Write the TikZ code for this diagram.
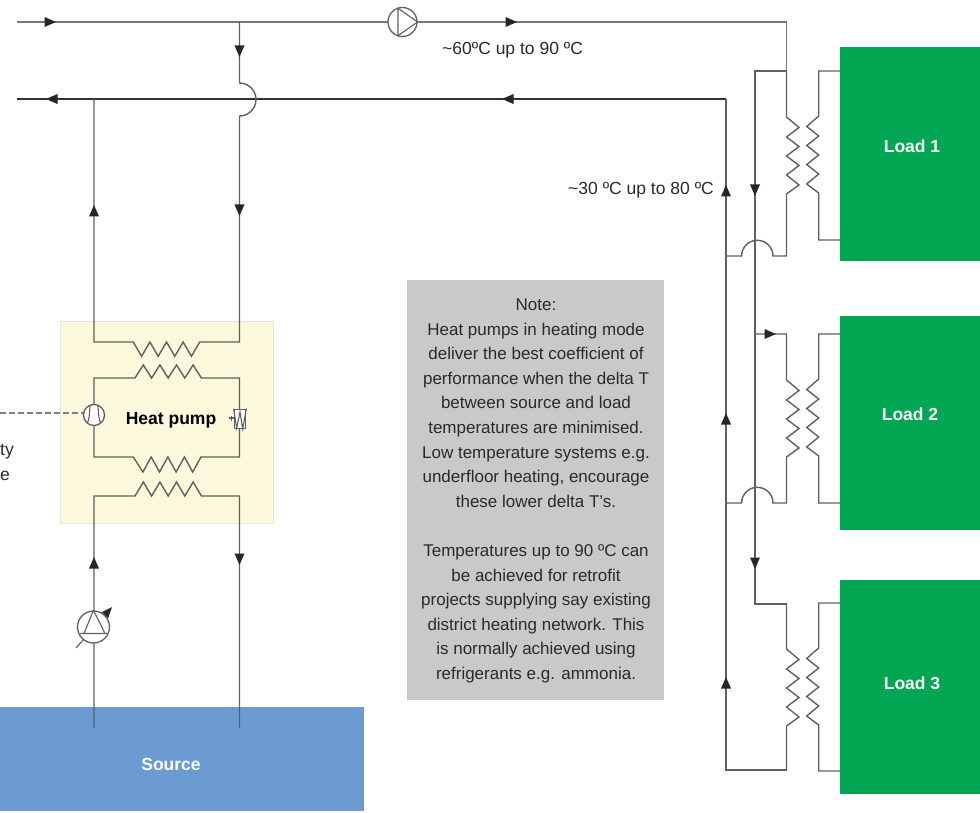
\documentclass[tikz,border=0pt]{standalone}
\usepackage{fontspec}
\setmainfont{Liberation Sans}
\definecolor{pipe}{HTML}{606060}
\definecolor{pipedark}{HTML}{333333}
\definecolor{hpyellow}{HTML}{FCF8DC}
\definecolor{notegrey}{HTML}{C9C9C9}
\definecolor{srcblue}{HTML}{6C9BD2}
\definecolor{loadgreen}{HTML}{00A651}
\definecolor{txt}{HTML}{2A2A2A}
\tikzset{
  pipeline/.style={draw=pipe,line width=1.4pt,line join=miter},
  mainline/.style={draw=pipedark,line width=1.8pt},
  topline/.style={draw=pipe!85,line width=1.7pt},
  loadbox/.style={fill=loadgreen,draw=none,minimum width=140pt,minimum height=214pt,inner sep=0pt},
  whitelabel/.style={inner sep=0pt,text=white,font=\bfseries\fontsize{17.5}{20}\selectfont},
  lbl/.style={inner sep=0pt,text=txt,font=\fontsize{17.5}{20}\selectfont},
  pumpcircle/.style={circle,draw=pipe,line width=1.3pt,fill=white,inner sep=0pt},
  pumpdetail/.style={draw=pipe,line width=1.1pt},
  flowtip/.style={fill=black!85,draw=none}
}
\newcommand\flowarrow[3]{\fill[flowtip,shift={(#1,#2)},rotate=#3] (0,0) -- (-11.5,-5) -- (-11.5,5) -- cycle;}
\newcommand\hcoil[1]{ -- ++(8.3,#1) -- ++(8.3,-#1) -- ++(8.3,#1) -- ++(8.3,-#1) -- ++(8.3,#1) -- ++(8.3,-#1) -- ++(8.3,#1) -- ++(8.3,-#1)}
\newcommand\vcoil[1]{ -- ++(#1,10.5) -- ++(-#1,9.5) -- ++(#1,9.5) -- ++(-#1,9.5) -- ++(#1,9.5) -- ++(-#1,9.5) -- ++(#1,10) -- ++(-#1,9)}
\begin{document}
\begin{tikzpicture}[x=1pt,y=-1pt]
\useasboundingbox (0,0) rectangle (980,813);
% panels
\node[fill=hpyellow,draw=black!10,line width=.5pt,minimum width=213pt,minimum height=202pt,inner sep=0pt] (hpbox) at (166.5,422) {};
\node[fill=notegrey,minimum width=257pt,minimum height=420pt,inner sep=0pt] (note) at (535.5,490) {};
\node[fill=srcblue,minimum width=364pt,minimum height=104pt,inner sep=0pt] (source) at (182,759) {};
\node[whitelabel] (sourcelabel) at (171,764.5) {Source};
\node[loadbox] (load1) at (910,154) {};
\node[loadbox] (load2) at (910,422.5) {};
\node[loadbox] (load3) at (910,686.5) {};
\node[whitelabel] (l1t) at (912,146) {Load 1};
\node[whitelabel] (l2t) at (910,414) {Load 2};
\node[whitelabel] (l3t) at (912,683) {Load 3};
% coordinates
\coordinate (flowstart) at (17,22);
\coordinate (flowcorner) at (786.5,22);
\coordinate (retstart) at (17,99);
\coordinate (retcorner) at (726,99);
\coordinate (hpoutjoin) at (94,99);
\coordinate (tapjoin) at (239.5,22);
% main lines
\draw[topline] (flowstart) -- (388,22);
\draw[topline] (416,22) -- (flowcorner) -- (786.5,71);
\draw[mainline] (retstart) -- (retcorner);
% heat pump risers
\draw[pipeline] (hpoutjoin) -- (94,342) -- (133.3,342) \hcoil{14.3} -- (239.5,342) -- (239.5,116);
\draw[pipeline] (tapjoin) -- (239.5,83) arc[start angle=90,delta angle=-180,radius=16.5pt];
% refrigerant loop
\draw[pipeline] (94,416) -- (94,378) -- (135,378) \hcoil{-13} -- (239.5,378) -- (239.5,457) -- (201,457) -- ++(-8.3,15) -- ++(-8.3,-15) -- ++(-8.3,15) -- ++(-8.3,-15) -- ++(-8.3,15) -- ++(-8.3,-15) -- ++(-8.3,15) -- (133.3,457) -- (94,457) -- (94,416);
% source loop
\draw[pipeline] (94,728) -- (94,496) -- (135,496) \hcoil{-14} -- (239.5,496) -- (239.5,728);
% compressor
\draw[dashed,draw=black!50,line width=1.2pt,dash pattern=on 6pt off 3pt] (0,413) -- (84,413);
\node[pumpcircle,minimum size=21pt] (comp) at (94,415) {};
\draw[pumpdetail] (90,406) .. controls (89.5,413) and (89.5,418) .. (87.5,423);
\draw[pumpdetail] (98,406) .. controls (98.5,413) and (98.5,418) .. (100.5,423);
% expansion valve
\node[fill=white,draw=pipe,line width=1.2pt,minimum width=11.5pt,minimum height=19.5pt,inner sep=0pt] (valve) at (240,419) {};
\draw[pumpdetail] (valve.north west) -- ++(3,19.5) -- (240,412) -- ++(2.7,17) -- (valve.north east);
\draw[pipe,line width=1.4pt] (229,418) -- (234,418) (231.5,415.5) -- (231.5,420.5);
\node[inner sep=0pt,text=black,font=\bfseries\fontsize{17.5}{20}\selectfont] (hplabel) at (171,420) {Heat pump};
% source pump
\coordinate (dialstart) at (76,648);
\coordinate (dialend) at (105,615);
\draw[pumpdetail] (dialstart) -- (dialend);
\fill[flowtip] (112,607) -- (102,612) -- (108,618.5) -- cycle;
\node[pumpcircle,minimum size=32pt] (srcpump) at (93.5,627) {};
\draw[pumpdetail] (srcpump.north) -- (84,633.5) (srcpump.north) -- (105,633.5) (80,633.5) -- (107,633.5);
% circulation pump
\node[pumpcircle,minimum size=29pt] (circ) at (402.5,22) {};
\draw[pumpdetail] (398,8.3) -- (circ.east) -- (398,35.7) -- cycle;
% distribution headers
\draw[pipeline] (retcorner) -- (726,770) -- (786.5,770);
\draw[pipeline] (786.5,71) -- (755,71) -- (755,604) -- (786.5,604);
% load 1 coils
\draw[pipeline] (786.5,71) -- (786.5,117) \vcoil{12.5} -- (786.5,256) -- (773,256) arc[start angle=0,end angle=180,radius=15.7pt] -- (726,256);
\draw[pipeline] (840,71) -- (818.7,71) -- (818.7,116) \vcoil{-12} -- (818.7,240) -- (840,240);
% load 2
\draw[pipeline] (755,334) -- (786.5,334) -- (786.5,380) \vcoil{12.5} -- (786.5,503) -- (773,503) arc[start angle=0,end angle=180,radius=15.7pt] -- (726,503);
\draw[pipeline] (840,334) -- (818.7,334) -- (818.7,379) \vcoil{-12} -- (818.7,503) -- (840,503);
% load 3
\draw[pipeline] (786.5,604) -- (786.5,649) \vcoil{12.5} -- (786.5,770);
\draw[pipeline] (840,603) -- (818.7,603) -- (818.7,648) \vcoil{-12} -- (818.7,771) -- (840,771);
% arrows
\flowarrow{56}{22}{0}
\flowarrow{517}{22}{0}
\flowarrow{46}{99}{180}
\flowarrow{502}{99}{180}
\flowarrow{239.5}{57}{270}
\flowarrow{94}{205}{90}
\flowarrow{239.5}{216}{270}
\flowarrow{94}{557}{90}
\flowarrow{239.5}{565}{270}
\flowarrow{726}{185}{90}
\flowarrow{755}{196}{270}
\flowarrow{776}{334}{0}
\flowarrow{726}{413}{90}
\flowarrow{755}{569}{270}
\flowarrow{726}{677}{90}
% labels
\node[lbl,anchor=west] (t60) at (442,50) {\textasciitilde 60ºC up to 90 ºC};
\node[lbl,anchor=east] (t30) at (714,190.5) {\textasciitilde 30 ºC up to 80 ºC};
\node[lbl,anchor=east] (ty) at (14,452) {ty};
\node[lbl,anchor=west] (te) at (0,476) {e};
\node[inner sep=0pt,text=txt,align=center,font=\fontsize{17}{24.6}\selectfont] (notetext) at (536,491) {Note:\\Heat pumps in heating mode\\deliver the best coefficient of\\performance when the delta T\\between source and load\\temperatures are minimised.\\Low temperature systems e.g.\\underfloor heating, encourage\\these lower delta T's.\\[24.6pt]Temperatures up to 90 ºC can\\be achieved for retrofit\\projects supplying say existing\\district heating network. This\\is normally achieved using\\refrigerants e.g. ammonia.};
\end{tikzpicture}
\end{document}
